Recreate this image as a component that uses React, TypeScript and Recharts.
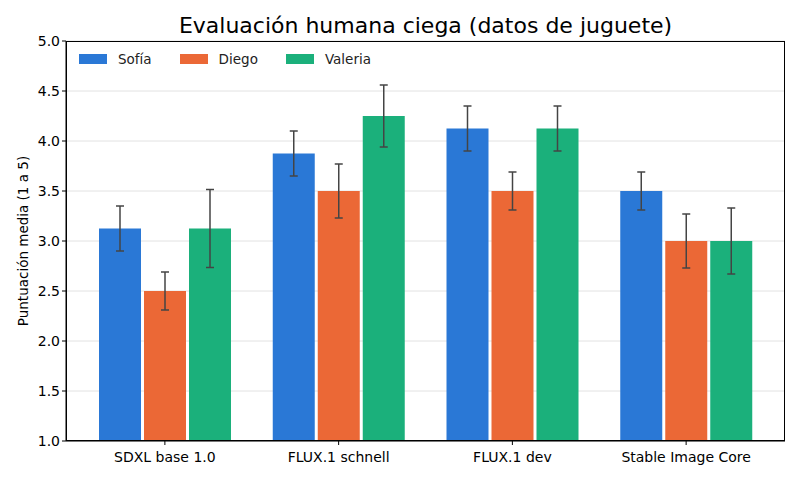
import React from "react";
import { BarChart, Bar, XAxis, YAxis, CartesianGrid, ErrorBar } from "recharts";

const BLUE = "#2A78D6";
const ORANGE = "#EB6836";
const GREEN = "#1BB07B";

const models = ["SDXL base 1.0", "FLUX.1 schnell", "FLUX.1 dev", "Stable Image Core"];
const sofia = [3.125, 3.875, 4.125, 3.5];
const sofiaErr = [0.225, 0.225, 0.225, 0.19];
const diego = [2.5, 3.5, 3.5, 3.0];
const diegoErr = [0.19, 0.27, 0.19, 0.27];
const valeria = [3.125, 4.25, 4.125, 3.0];
const valeriaErr = [0.39, 0.31, 0.225, 0.33];
const yTicks = [1.0, 1.5, 2.0, 2.5, 3.0, 3.5, 4.0, 4.5, 5.0];

const series = [
  { key: "sofia", name: "Sofía", color: BLUE },
  { key: "diego", name: "Diego", color: ORANGE },
  { key: "valeria", name: "Valeria", color: GREEN },
];

const data = models.map((m, i) => ({
  model: m,
  sofia: sofia[i], sofiaErr: sofiaErr[i],
  diego: diego[i], diegoErr: diegoErr[i],
  valeria: valeria[i], valeriaErr: valeriaErr[i],
}));

const FONT = "DejaVu Sans, sans-serif";
const tick = { fontSize: 14, fill: "#000", fontFamily: FONT };

// plot box in page pixels (matches the reference)
const PLOT = { left: 66, top: 41, width: 719, height: 400 };

function LegendBox() {
  return (
    <div style={{
      position: "absolute", left: 79, top: 51, display: "flex",
      fontFamily: FONT, fontSize: 13.5, color: "#222",
    }}>
      {series.map((s) => (
        <div key={s.key} style={{ display: "flex", alignItems: "center", marginRight: 28 }}>
          <span style={{ width: 28, height: 10, background: s.color, display: "inline-block", marginRight: 11 }} />
          <span>{s.name}</span>
        </div>
      ))}
    </div>
  );
}

export default function App() {
  return (
    <div style={{ position: "absolute", left: 0, top: 0, width: 800, height: 480, background: "#fff" }}>
      <div style={{
        position: "absolute", left: PLOT.left, width: PLOT.width, top: 13, textAlign: "center",
        fontFamily: FONT, fontSize: 22, color: "#000",
      }}>
        Evaluación humana ciega (datos de juguete)
      </div>
      <BarChart
        width={800}
        height={480}
        data={data}
        margin={{ top: 41, right: 15, bottom: 9, left: 10 }}
        barCategoryGap={21}
        barGap={3}
      >
        <CartesianGrid vertical={false} stroke="#e2e2e2" />
        <XAxis
          dataKey="model"
          tick={tick}
          tickSize={4}
          tickMargin={7}
          height={30}
          padding={{ left: 12, right: 12 }}
          stroke="#000"
          tickLine={{ stroke: "#000" }}
        />
        <YAxis
          domain={[1, 5]}
          ticks={yTicks}
          tickFormatter={(v: number) => v.toFixed(1)}
          tick={tick}
          tickSize={4}
          width={56}
          stroke="#000"
          allowDataOverflow
          label={{
            value: "Puntuación media (1 a 5)", angle: -90, position: "insideLeft", offset: 13,
            style: { fontSize: 13.5, fill: "#000", fontFamily: FONT, textAnchor: "middle" },
          }}
        />
        {series.map((s) => (
          <Bar key={s.key} dataKey={s.key} name={s.name} fill={s.color} isAnimationActive={false}>
            <ErrorBar dataKey={s.key + "Err"} width={4} stroke="#444" strokeWidth={1.5} direction="y" />
          </Bar>
        ))}
      </BarChart>
      <div style={{
        position: "absolute", left: PLOT.left, top: PLOT.top, width: PLOT.width, height: PLOT.height,
        border: "1px solid #000", boxSizing: "border-box", pointerEvents: "none",
      }} />
      <LegendBox />
    </div>
  );
}
